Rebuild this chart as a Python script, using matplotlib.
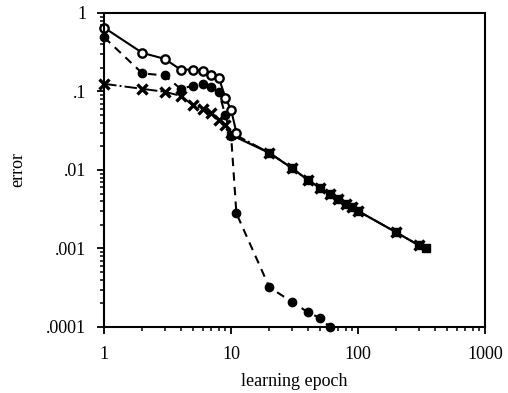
import numpy as np
import matplotlib
matplotlib.use("Agg")
import matplotlib.pyplot as plt
from matplotlib.ticker import FixedLocator, LogLocator, NullFormatter

plt.rcParams['font.family'] = ['Liberation Serif', 'DejaVu Serif']

# open circles, solid line
open_x = [1, 2, 3, 4, 5, 6, 7, 8, 9, 10, 11]
open_y = [0.65, 0.31, 0.26, 0.19, 0.19, 0.18, 0.16, 0.15, 0.083, 0.058, 0.03]

# filled circles, dashed line
fill_x = [1, 2, 3, 4, 5, 6, 7, 8, 9, 10, 11, 20, 30, 40, 50, 60]
fill_y = [0.49, 0.17, 0.16, 0.108, 0.118, 0.125, 0.114, 0.098, 0.05, 0.027,
          0.0028, 0.00032, 0.00021, 0.000155, 0.00013, 0.0001]

# crosses, dash-dot line
cross_x = [1, 2, 3, 4, 5, 6, 7, 8, 9, 10, 20, 30, 40, 50, 60, 70, 80, 90, 100, 200, 300]
cross_y = [0.125, 0.108, 0.099, 0.088, 0.067, 0.06, 0.053, 0.043, 0.037, 0.03,
           0.0165, 0.0106, 0.0075, 0.0059, 0.0049, 0.0043, 0.0037, 0.0034, 0.003,
           0.0016, 0.0011]

# filled squares, solid line
sq_x = [10, 20, 30, 40, 50, 60, 70, 80, 90, 100, 200, 300, 340]
sq_y = [0.028, 0.0165, 0.0106, 0.0075, 0.0059, 0.0049, 0.0043, 0.0037, 0.0034,
        0.003, 0.0016, 0.0011, 0.001]

xticks = [1, 10, 100, 1000]
xlabels = ['1', '10', '100', '1000']
yticks = [0.0001, 0.001, 0.01, 0.1, 1]
ylabels = ['.0001', '.001', '.01', '.1', '1']

fig = plt.figure(figsize=(5.08, 3.93), dpi=100)
ax = fig.add_axes([0.205, 0.168, 0.75, 0.799])

ax.plot(cross_x, cross_y, color='black', linestyle='-.', linewidth=1.4,
        marker='x', markersize=6.5, markeredgewidth=2.4, clip_on=False)
ax.plot(sq_x, sq_y, color='black', linestyle='-', linewidth=1.6,
        marker='s', markersize=6, clip_on=False)
ax.plot(fill_x, fill_y, color='black', linestyle=(0, (4, 3)), linewidth=1.5,
        marker='o', markersize=6, clip_on=False)
ax.plot(open_x, open_y, color='black', linestyle='-', linewidth=1.5,
        marker='o', markersize=6, markerfacecolor='white', markeredgewidth=1.7,
        clip_on=False)

ax.set_xscale('log')
ax.set_yscale('log')
ax.set_xlim(1, 1000)
ax.set_ylim(0.0001, 1)

ax.xaxis.set_major_locator(FixedLocator(xticks))
ax.set_xticklabels(xlabels)
ax.yaxis.set_major_locator(FixedLocator(yticks))
ax.set_yticklabels(ylabels)
ax.xaxis.set_minor_locator(LogLocator(base=10, subs=np.arange(2, 10)))
ax.yaxis.set_minor_locator(LogLocator(base=10, subs=np.arange(2, 10)))
ax.xaxis.set_minor_formatter(NullFormatter())
ax.yaxis.set_minor_formatter(NullFormatter())

ax.tick_params(which='major', direction='out', length=5, width=1.3, labelsize=13)
ax.tick_params(axis='x', which='major', pad=9)
ax.tick_params(axis='y', which='major', pad=8)
ax.tick_params(which='minor', direction='out', length=3, width=1.1)
for s in ax.spines.values():
    s.set_linewidth(1.5)

ax.set_xlabel('learning epoch', fontsize=13, labelpad=7)
ax.set_ylabel('error', fontsize=13, labelpad=14)

fig.savefig('out.png', dpi=100)
